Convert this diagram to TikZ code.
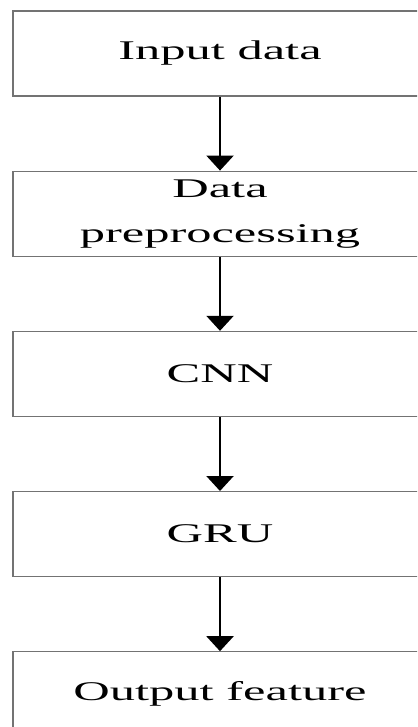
\documentclass[tikz,border=0pt]{standalone}
\usepackage{fontspec}
\setmainfont{Liberation Serif}
\usetikzlibrary{positioning,arrows.meta}
\colorlet{boxgray}{black!55}
\newcommand{\wide}[1]{\scalebox{1.87}[1]{#1}}

\begin{document}
\begin{tikzpicture}[
        x=1pt,y=1pt,
        node distance=74pt,
        stage/.style={draw=boxgray,line width=1.2pt,minimum width=414pt,minimum height=85pt,
            inner sep=0pt,align=center,font=\fontsize{27}{45}\selectfont},
        flow/.style={line width=2.2pt,-{Triangle[width=27pt,length=15pt]}}
    ]
    \useasboundingbox (0,0) rectangle (417,-727);
    \clip (0,0) rectangle (417,-727);
    % stages
    \node[stage] (input) at (220,-53.5) {\wide{Input data}};
    \node[stage,below=of input] (prep) {\wide{Data}\\\wide{preprocessing}};
    \node[stage,below=of prep] (cnn) {\wide{CNN}};
    \node[stage,below=of cnn] (gru) {\wide{GRU}};
    \node[stage,below=of gru] (output) {\wide{Output feature}};
    % arrows
    \draw[flow] (input) -- (prep);
    \draw[flow] (prep) -- (cnn);
    \draw[flow] (cnn) -- (gru);
    \draw[flow] (gru) -- (output);
\end{tikzpicture}
\end{document}
